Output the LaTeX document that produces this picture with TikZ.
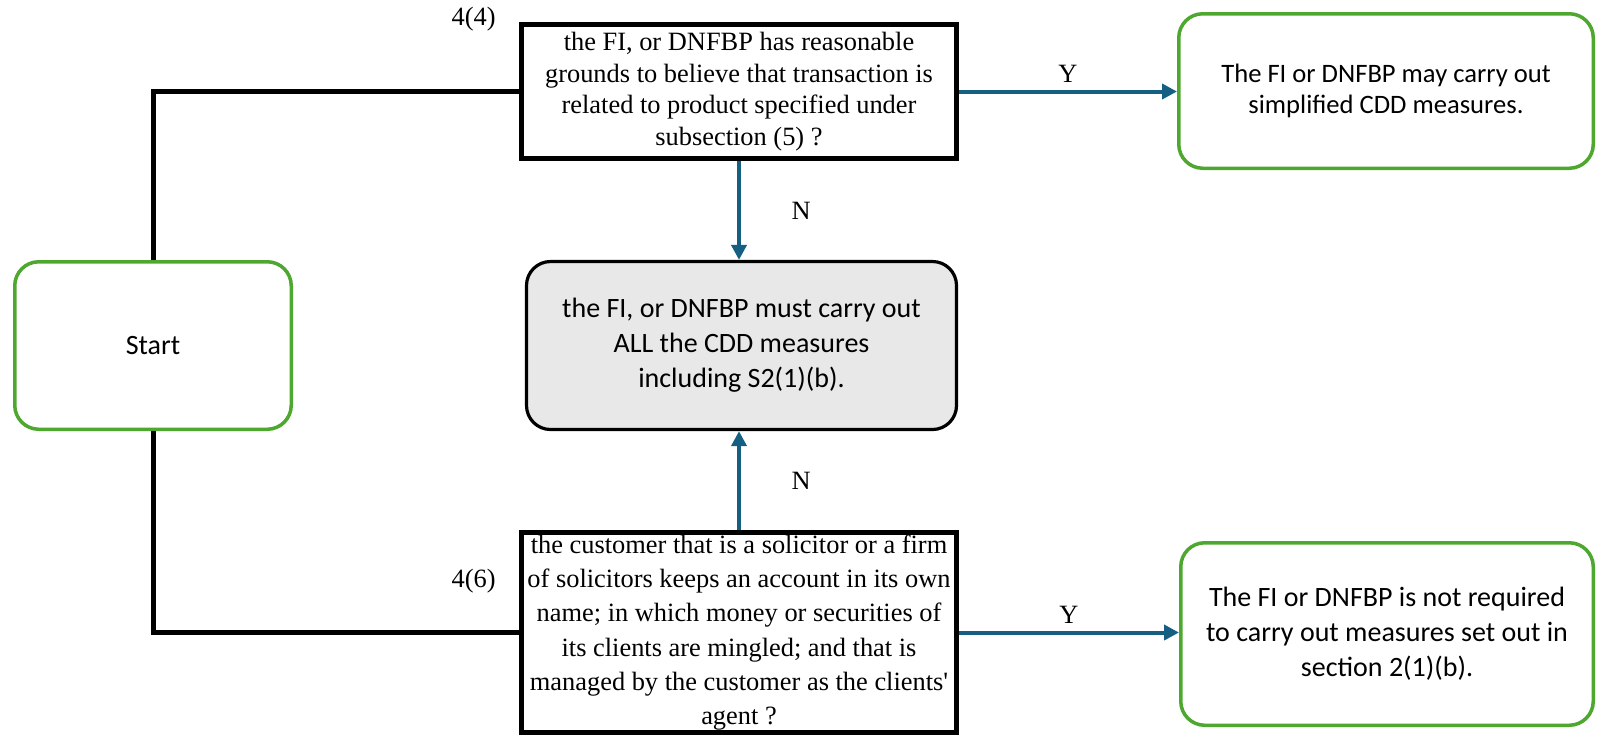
\documentclass[tikz,border=0pt]{standalone}
\usepackage{fontspec}
\setmainfont{Liberation Serif}
\newfontfamily\aptosfont{Carlito}
\usepackage{xcolor}
\usetikzlibrary{arrows.meta, positioning}
\definecolor{flowgreen}{HTML}{4EA72E}
\definecolor{flowblue}{HTML}{156082}
\definecolor{flowgrey}{HTML}{E8E8E8}
\tikzset{
  terminal/.style={rectangle, rounded corners=12pt, draw=flowgreen, line width=1.75pt, align=center, font=\aptosfont\fontsize{14}{17.5}\selectfont},
  query/.style={rectangle, draw=black, line width=2.5pt, align=center, inner sep=1pt, font=\fontsize{13.2}{15.8}\selectfont},
  action/.style={rectangle, rounded corners=12pt, draw=black, fill=flowgrey, line width=1.6pt, align=center, font=\aptosfont\fontsize{14}{17.5}\selectfont},
  link/.style={line width=2.5pt},
  arrow/.style={-{Triangle[length=7.5pt, width=7.5pt]}, draw=flowblue, line width=2pt},
}

\begin{document}
\begin{tikzpicture}[x=0.5pt, y=-0.5pt, font=\fontsize{13.2}{15.8}\selectfont,
  tag/.style={inner sep=0pt}]
\useasboundingbox (0,0) rectangle (1598,736);

\node[terminal, minimum width=138.25pt, minimum height=83.75pt] (start) at (153,345.5) {Start};
\node[query, minimum width=217.5pt, minimum height=67pt] (q4) at (739,91.5)
  {the FI, or DNFBP has reasonable\\grounds to believe that transaction is\\related to product specified under\\subsection (5) ?};
\node[action, minimum width=215pt, minimum height=84pt] (must) at (741.5,345.5)
  {the FI, or DNFBP must carry out\\ALL the CDD measures\\including S2(1)(b).};
\node[query, minimum width=217.5pt, minimum height=100pt, font=\fontsize{13.2}{17.1}\selectfont] (q6) at (739,632.5)
  {the customer that is a solicitor or a firm\\of solicitors keeps an account in its own\\name; in which money or securities of\\its clients are mingled; and that is\\managed by the customer as the clients\textquotesingle\\agent ?};
\node[terminal, minimum width=207.25pt, minimum height=77.25pt, font=\aptosfont\fontsize{13.3}{15.8}\selectfont] (simp) at (1386,91)
  {The FI or DNFBP may carry out\\simplified CDD measures.};
\node[terminal, minimum width=206.25pt, minimum height=91.25pt] (notreq) at (1387,634)
  {The FI or DNFBP is not required\\to carry out measures set out in\\section 2(1)(b).};

\node[tag, left=11.5pt of q4.north west, yshift=1.5pt] (n44) {4(4)};
\node[tag, left=11.5pt of q6.west, yshift=25.75pt] (n46) {4(6)};

\draw[link] (start.north) |- (q4.west);
\draw[link] (start.south) |- (q6.west);
\draw[arrow] (q4.east) -- node[above] {Y} (q4.east -| simp.west);
\draw[arrow] (q6.east) -- node[above] {Y} (q6.east -| notreq.west);
\draw[arrow] (q4.south) -- node[right=22pt] {N} (q4.south |- must.north);
\draw[arrow] (q6.north) -- node[right=22pt] {N} (q6.north |- must.south);
\end{tikzpicture}
\end{document}
